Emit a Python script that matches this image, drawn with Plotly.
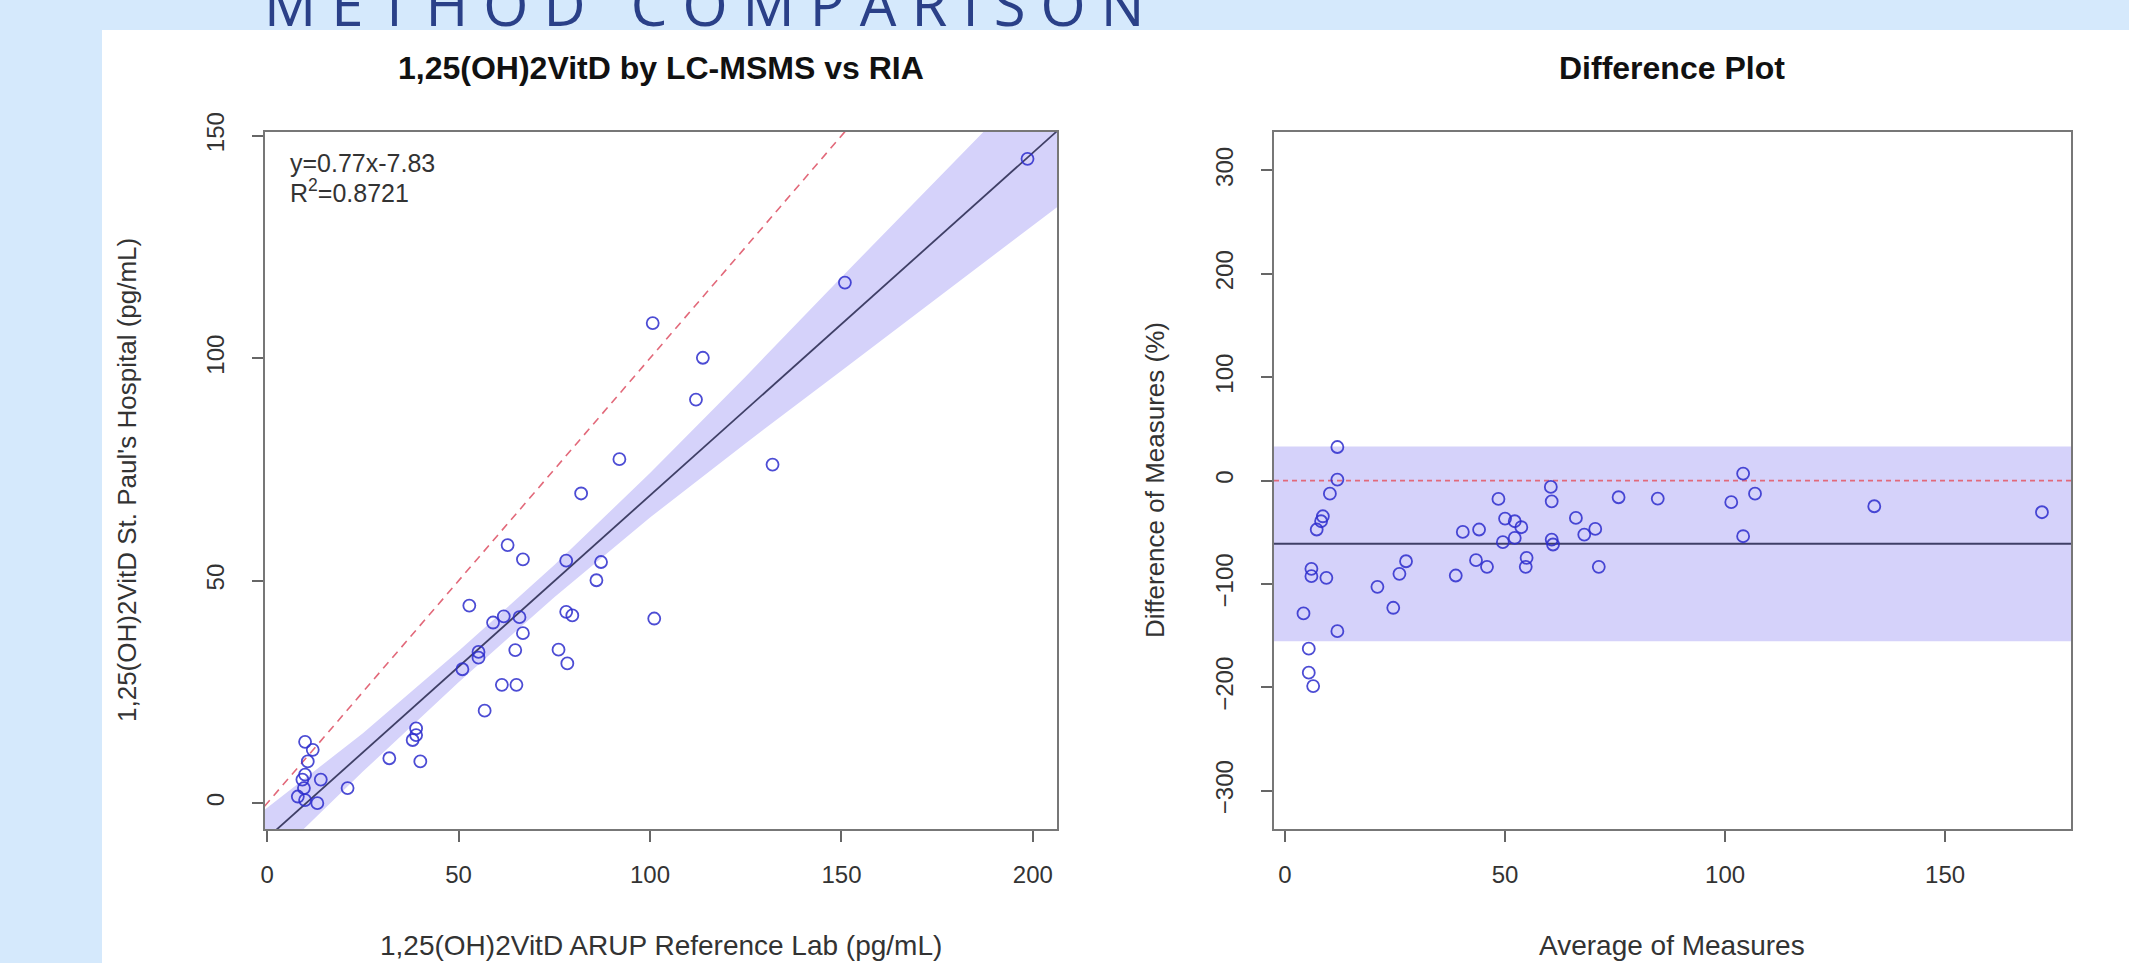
import plotly.graph_objects as go

W, H = 2129, 963

# ---------------- data ----------------
# Left panel: ARUP reference lab (x) vs St. Paul's Hospital (y), pg/mL
ria_x = [198.6, 150.9, 100.7, 113.8, 112.0, 92.0, 132.0, 82.0, 62.8, 66.8, 78.1, 87.2,
         86.0, 52.8, 101.1, 78.1, 79.7, 61.8, 65.9, 59.0, 66.8, 55.2, 55.2, 64.8, 76.1,
         78.4, 51.0, 61.3, 65.1, 56.8, 31.9, 38.9, 38.9, 38.0, 40.0, 21.0, 9.9, 11.9,
         10.6, 9.9, 9.2, 14.0, 9.6, 8.0, 9.9, 13.1]
lcms_y = [144.8, 117.0, 107.9, 100.1, 90.7, 77.3, 76.1, 69.6, 58.0, 54.8, 54.5, 54.2,
          50.1, 44.4, 41.5, 43.0, 42.2, 42.0, 41.8, 40.6, 38.2, 34.0, 32.7, 34.4, 34.5,
          31.4, 30.1, 26.6, 26.6, 20.8, 10.1, 16.8, 15.3, 14.2, 9.4, 3.4, 13.8, 12.0,
          9.4, 6.4, 5.3, 5.3, 3.4, 1.5, 0.7, 0.0]

fit_slope = 0.77
fit_intercept = -7.83
r_squared = 0.8721

# confidence band around the fit, read at several x positions
band_x = [-1, 25, 50, 75, 100, 125, 150, 175, 207]
band_lo = [-14.6, 7.1, 27.2, 46.3, 64.2, 80.9, 97.2, 113.4, 134.4]
band_hi = [-1.7, 15.7, 34.2, 53.5, 74.2, 95.9, 118.2, 140.4, 168.4]

# Right panel: average of measures vs difference (%)
avg_x = [11.9, 11.9, 10.2, 8.6, 8.2, 7.2, 6.0, 6.0, 9.4, 4.2, 5.4, 11.9, 21.0, 24.6,
         26.0, 27.5, 38.8, 40.4, 44.1, 43.4, 45.9, 48.5, 50.0, 49.5, 52.2, 53.7, 52.2,
         54.9, 54.7, 60.4, 60.6, 60.6, 60.9, 66.1, 68.0, 70.5, 71.3, 75.8, 84.7, 101.4,
         104.1, 104.1, 106.8, 133.9, 172.0, 5.4, 6.4]
diff_pct = [32.5, 1.0, -12.6, -34.5, -39.3, -47.3, -85.3, -92.4, -94.0, -128.5, -162.6,
            -145.6, -102.7, -123.0, -90.2, -78.0, -91.8, -49.6, -47.3, -77.0, -83.4,
            -17.7, -36.7, -59.6, -39.3, -45.1, -55.4, -74.7, -83.4, -6.1, -20.0, -57.0,
            -61.8, -36.1, -52.2, -46.7, -83.4, -16.1, -17.4, -20.9, 6.8, -53.8, -12.6,
            -24.8, -30.6, -185.8, -198.7]

diff_mean = -61.1
diff_lo = -155.3
diff_hi = 33.1

left_xticks = [0, 50, 100, 150, 200]
left_yticks = [0, 50, 100, 150]
right_xticks = [0, 50, 100, 150]
right_yticks = [-300, -200, -100, 0, 100, 200, 300]

left_xrange = [-0.7, 206.3]
left_yrange = [-5.8, 150.9]
right_xrange = [-2.5, 178.6]
right_yrange = [-337.0, 337.5]

# ---------------- styling ----------------
BG_BLUE = "#d5e9fc"
BAND = "#d5d2fa"
PT = "rgba(45,45,205,0.85)"
FITC = "#3f3f66"
REDD = "#e2697a"
FONT = "Liberation Sans, Arial, sans-serif"


def px(x):
    return x / W


def py(y):
    return 1 - y / H


fig = go.Figure()

# left panel
fig.add_trace(go.Scatter(
    x=band_x + band_x[::-1], y=band_hi + band_lo[::-1], fill="toself",
    fillcolor=BAND, line=dict(width=0), mode="lines", hoverinfo="skip",
    xaxis="x", yaxis="y", showlegend=False))
fig.add_trace(go.Scatter(
    x=left_xrange, y=left_xrange, mode="lines",
    line=dict(color=REDD, width=1.6, dash="8px,6px"),
    xaxis="x", yaxis="y", showlegend=False))
fig.add_trace(go.Scatter(
    x=left_xrange, y=[fit_slope * v + fit_intercept for v in left_xrange], mode="lines",
    line=dict(color=FITC, width=1.8), xaxis="x", yaxis="y", showlegend=False))
fig.add_trace(go.Scatter(
    x=ria_x, y=lcms_y, mode="markers",
    marker=dict(symbol="circle-open", size=12, color=PT, line=dict(width=1.8)),
    xaxis="x", yaxis="y", showlegend=False))

# right panel
fig.add_trace(go.Scatter(
    x=[right_xrange[0], right_xrange[1], right_xrange[1], right_xrange[0]],
    y=[diff_lo, diff_lo, diff_hi, diff_hi], fill="toself",
    fillcolor=BAND, line=dict(width=0), mode="lines", hoverinfo="skip",
    xaxis="x2", yaxis="y2", showlegend=False))
fig.add_trace(go.Scatter(
    x=right_xrange, y=[0, 0], mode="lines",
    line=dict(color=REDD, width=1.6, dash="5px,4px"),
    xaxis="x2", yaxis="y2", showlegend=False))
fig.add_trace(go.Scatter(
    x=right_xrange, y=[diff_mean, diff_mean], mode="lines",
    line=dict(color=FITC, width=1.8), xaxis="x2", yaxis="y2", showlegend=False))
fig.add_trace(go.Scatter(
    x=avg_x, y=diff_pct, mode="markers",
    marker=dict(symbol="circle-open", size=12, color=PT, line=dict(width=1.8)),
    xaxis="x2", yaxis="y2", showlegend=False))

axis_common = dict(
    showgrid=False, zeroline=False, showline=True, mirror=True,
    linecolor="#777777", linewidth=2, ticks="outside", ticklen=11,
    tickwidth=1.5, tickcolor="#666666",
    tickfont=dict(family=FONT, size=24, color="#333333"),
)

dom_y = [py(829), py(131.7)]
fig.update_layout(
    width=W, height=H, margin=dict(l=0, r=0, t=0, b=0, autoexpand=False),
    paper_bgcolor=BG_BLUE, plot_bgcolor="white",
    xaxis=dict(domain=[px(264.5), px(1057)], range=left_xrange, tickvals=left_xticks,
               ticklabelstandoff=12, anchor="y", **axis_common),
    yaxis=dict(domain=dom_y, range=left_yrange, tickvals=left_yticks, tickangle=-90,
               ticklabelstandoff=18, anchor="x", **axis_common),
    xaxis2=dict(domain=[px(1274), px(2071)], range=right_xrange, tickvals=right_xticks,
                ticklabelstandoff=12, anchor="y2", **axis_common),
    yaxis2=dict(domain=dom_y, range=right_yrange, tickvals=right_yticks, tickangle=-90,
                ticklabelstandoff=18, anchor="x2", **axis_common),
    shapes=[dict(type="rect", xref="paper", yref="paper", x0=px(102), x1=1.0,
                 y0=0, y1=py(30), fillcolor="white", line=dict(width=0), layer="below")],
)

sp = "\u00a0"
big_title = sp.join("METHOD") + sp * 3 + sp.join("COMPARISON")

ann = [
    dict(text=big_title, x=px(262), y=py(3), xanchor="left", yanchor="middle",
         font=dict(family="Open Sans, DejaVu Sans, sans-serif", size=58, color="#2a4088")),
    dict(text="<b>1,25(OH)2VitD by LC-MSMS vs RIA</b>", x=px(661), y=py(68),
         xanchor="center", yanchor="middle", font=dict(family=FONT, size=32, color="#111111")),
    dict(text="<b>Difference Plot</b>", x=px(1672), y=py(68),
         xanchor="center", yanchor="middle", font=dict(family=FONT, size=32, color="#111111")),
    dict(text="1,25(OH)2VitD ARUP Reference Lab (pg/mL)", x=px(661), y=py(945),
         xanchor="center", yanchor="middle", font=dict(family=FONT, size=28, color="#333333")),
    dict(text="Average of Measures", x=px(1672), y=py(945),
         xanchor="center", yanchor="middle", font=dict(family=FONT, size=28, color="#333333")),
    dict(text="1,25(OH)2VitD St. Paul's Hospital (pg/mL)", x=px(127), y=py(480),
         textangle=-90, xanchor="center", yanchor="middle",
         font=dict(family=FONT, size=26, color="#333333")),
    dict(text="Difference of Measures (%)", x=px(1155), y=py(480),
         textangle=-90, xanchor="center", yanchor="middle",
         font=dict(family=FONT, size=26, color="#333333")),
    dict(text="y=%.2fx%.2f" % (fit_slope, fit_intercept), x=px(288), y=py(163),
         xanchor="left", yanchor="middle", font=dict(family=FONT, size=25, color="#333333")),
    dict(text="R<sup>2</sup>=%.4f" % r_squared, x=px(288), y=py(191),
         xanchor="left", yanchor="middle", font=dict(family=FONT, size=25, color="#333333")),
]
for a in ann:
    a.update(xref="paper", yref="paper", showarrow=False)
fig.update_layout(annotations=ann)

fig.write_html("out.html")
